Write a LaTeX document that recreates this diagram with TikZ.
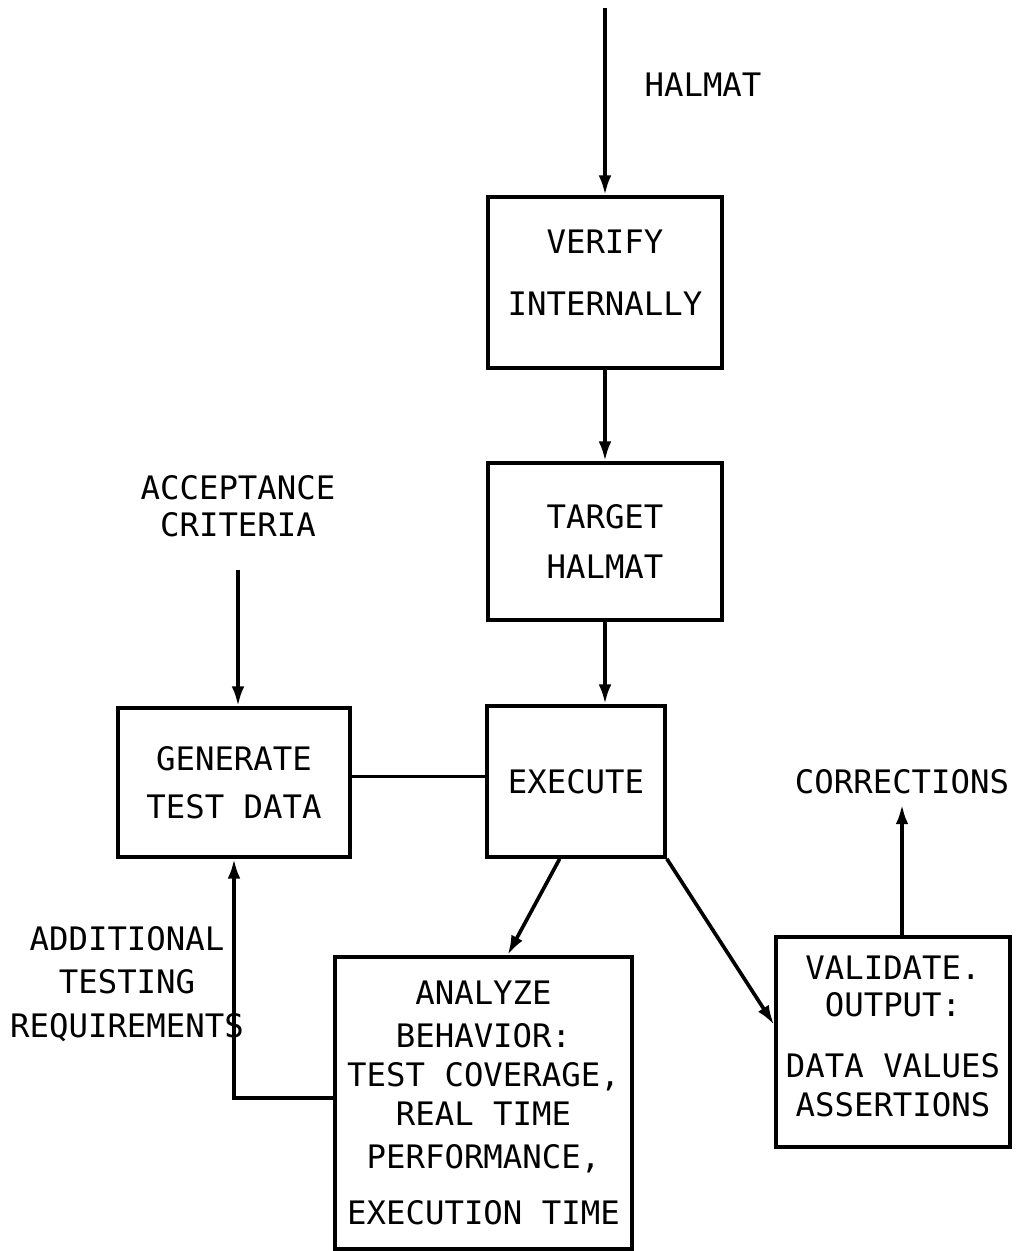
\documentclass[tikz,border=0pt]{standalone}
\usepackage{fontspec}
\setmonofont{DejaVu Sans Mono}
\usetikzlibrary{calc,positioning,arrows.meta}
\begin{document}
\begin{tikzpicture}[x=0.025cm,y=-0.025cm,line width=2.6pt,>={Latex[length=14pt,width=9pt]},every node/.style={draw,align=center,inner sep=2pt,font=\ttfamily\fontsize{23}{28}\selectfont}]
\useasboundingbox (0,0) rectangle (1015,1251);
\node [minimum width=5.85cm,minimum height=4.275cm] (Verify) at (605,282.5) {VERIFY\\[16pt]INTERNALLY\\[-14pt]~};
\node [minimum width=5.85cm,minimum height=3.925cm] (Target) at (605,541.5) {TARGET\\[7pt]HALMAT};
\node [minimum width=4.45cm,minimum height=3.775cm] (Execute) at (576,781.5) {EXECUTE};
\node [minimum width=5.8cm,minimum height=3.725cm] (Generate) at (234,782.5) {GENERATE\\[6pt]TEST DATA};
\node [minimum width=5.85cm,minimum height=5.25cm] (Validate) at (893,1042) {VALIDATE.\\[-2pt]OUTPUT:\\[15pt]DATA VALUES\\ASSERTIONS\\[-20pt]~};
\node [minimum width=7.425cm,minimum height=7.3cm] (Analyze) at (483.5,1103) {ANALYZE\\[2pt]BEHAVIOR:\\TEST COVERAGE,\\REAL TIME\\[2pt]PERFORMANCE,\\[12pt]EXECUTION TIME};
\node [draw=none] (HalmatLabel) at (703,85) {HALMAT};
\node [draw=none] (Acceptance) at (238,506) {ACCEPTANCE\\[-2pt]CRITERIA};
\node [draw=none] (Corrections) at (902,782) {CORRECTIONS};
\node [draw=none] (Additional) at (127,984) {ADDITIONAL\\[3pt]TESTING\\[3pt]REQUIREMENTS};
\coordinate (HalmatIn) at (605,8);
\coordinate (AcceptanceIn) at (238,570);
\draw [->] (HalmatIn) -- (Verify.north);
\draw [->] (Verify.south) -- (Target.north);
\draw [->] (Target.south) -- (Target.south |- Execute.north);
\draw [->] (AcceptanceIn) -- (AcceptanceIn |- Generate.north);
\draw ($(Generate.east)+(0,-6)$) -- ($(Generate.east -| Execute.west)+(0,-6)$);
\draw [->] ($(Execute.south west)!0.41!(Execute.south east)$) -- ($(Analyze.north west)!0.58!(Analyze.north east)$);
\draw [->] (Execute.south east) -- ($(Validate.north west)!0.42!(Validate.south west)$);
\draw [->,shorten >=4pt] (Validate.north -| Corrections) -- (Corrections.south);
\draw [->] ($(Analyze.west)+(0,-5)$) -| (Generate.south);
\end{tikzpicture}
\end{document}
